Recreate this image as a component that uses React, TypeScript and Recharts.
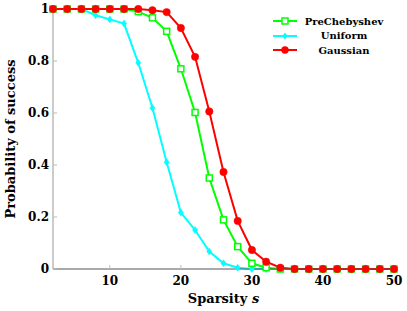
import React from 'react';
import { LineChart, Line, XAxis, YAxis, Legend } from 'recharts';

const sparsity = [2, 4, 6, 8, 10, 12, 14, 16, 18, 20, 22, 24, 26, 28, 30, 32, 34, 36, 38, 40, 42, 44, 46, 48, 50];
const preChebyshev = [1, 1, 1, 1, 1, 1, 0.99, 0.966, 0.914, 0.77, 0.602, 0.35, 0.189, 0.086, 0.022, 0.005, 0, 0, 0, 0, 0, 0, 0, 0, 0];
const uniform = [1, 1, 1, 0.976, 0.96, 0.944, 0.793, 0.619, 0.411, 0.217, 0.15, 0.067, 0.022, 0.005, 0, 0, 0, 0, 0, 0, 0, 0, 0, 0, 0];
const gaussian = [1, 1, 1, 1, 1, 1, 1, 0.995, 0.988, 0.927, 0.816, 0.606, 0.373, 0.185, 0.073, 0.028, 0.005, 0, 0, 0, 0, 0, 0, 0, 0];
const xTicks = [10, 20, 30, 40, 50];
const yTicks = [0, 0.2, 0.4, 0.6, 0.8, 1];

const data = sparsity.map((s, i) => ({
  s,
  pre: preChebyshev[i],
  uni: uniform[i],
  gau: gaussian[i],
}));

const GREEN = '#00ff00';
const CYAN = '#00ffff';
const RED = '#ff0000';
const FONT = '"DejaVu Serif", serif';

const SquareDot = (props: any) => {
  const { cx, cy, index } = props;
  if (cx == null || cy == null) return null;
  return <rect key={`sq-${index}`} x={cx - 3} y={cy - 3} width={6} height={6} fill="#ffffff" stroke={GREEN} strokeWidth={1.5} />;
};
const DiamondDot = (props: any) => {
  const { cx, cy, index } = props;
  if (cx == null || cy == null) return null;
  return <polygon key={`dm-${index}`} points={`${cx},${cy - 3.5} ${cx + 2.6},${cy} ${cx},${cy + 3.5} ${cx - 2.6},${cy}`} fill={CYAN} stroke={CYAN} strokeWidth={0.5} />;
};
const CircleDot = (props: any) => {
  const { cx, cy, index } = props;
  if (cx == null || cy == null) return null;
  return <circle key={`ci-${index}`} cx={cx} cy={cy} r={3.7} fill={RED} stroke={RED} strokeWidth={0.5} />;
};

const legendItems = [
  { name: 'PreChebyshev', color: GREEN, kind: 'sq' },
  { name: 'Uniform', color: CYAN, kind: 'dm' },
  { name: 'Gaussian', color: RED, kind: 'ci' },
];

const LegendContent = () => (
  <div style={{ fontFamily: FONT, fontWeight: 'bold', fontSize: 10 }}>
    {legendItems.map((it) => (
      <div key={it.name} style={{ display: 'flex', alignItems: 'center', height: 14.5 }}>
        <svg width={26} height={12} style={{ display: 'block' }}>
          <line x1={1} y1={6} x2={25} y2={6} stroke={it.color} strokeWidth={2} />
          {it.kind === 'sq' && <rect x={10} y={3} width={6} height={6} fill="#fff" stroke={it.color} strokeWidth={1.5} />}
          {it.kind === 'dm' && <polygon points="13,2.5 15.6,6 13,9.5 10.4,6" fill={it.color} />}
          {it.kind === 'ci' && <circle cx={13} cy={6} r={3.7} fill={it.color} />}
        </svg>
        <span style={{ width: 92, textAlign: 'center', color: '#000' }}>{it.name}</span>
      </div>
    ))}
  </div>
);

const tickStyle = { fontFamily: FONT, fontWeight: 'bold' as const, fontSize: 12, fill: '#000' };

const XLabel = (props: any) => {
  const vb = props.viewBox || {};
  const cx = (vb.x ?? 53) + (vb.width ?? 341) / 2;
  return (
    <text x={cx} y={303} textAnchor="middle" fontFamily={FONT} fontWeight="bold" fontSize={13} fill="#000">
      Sparsity <tspan fontStyle="italic">s</tspan>
    </text>
  );
};

const YLabel = (props: any) => {
  const vb = props.viewBox || {};
  const cy = (vb.y ?? 9) + (vb.height ?? 260) / 2;
  const x = 15;
  return (
    <text x={x} y={cy} transform={`rotate(-90 ${x} ${cy})`} textAnchor="middle" fontFamily={FONT} fontWeight="bold" fontSize={13} fill="#000">
      Probability of success
    </text>
  );
};

export default function App() {
  return (
    <div style={{ position: 'absolute', left: 0, top: 0, width: 407, height: 311, background: '#fff' }}>
      <LineChart width={407} height={311} data={data} margin={{ top: 9, right: 13, left: 0, bottom: 0 }}>
        <XAxis
          dataKey="s"
          type="number"
          domain={[2, 50]}
          ticks={xTicks}
          tickSize={-4}
          tickMargin={11}
          height={42}
          tick={tickStyle}
          axisLine={{ stroke: '#555', strokeWidth: 1 }}
          tickLine={{ stroke: '#bbb' }}
          label={<XLabel />}
        />
        <XAxis
          xAxisId="top"
          orientation="top"
          dataKey="s"
          type="number"
          domain={[2, 50]}
          ticks={xTicks}
          tickSize={-4}
          height={0}
          tickFormatter={() => ''}
          axisLine={{ stroke: '#444', strokeWidth: 1 }}
          tickLine={{ stroke: '#bbb' }}
        />
        <YAxis
          type="number"
          domain={[0, 1]}
          ticks={yTicks}
          tickSize={-4}
          tickMargin={8}
          width={53}
          tick={tickStyle}
          tickFormatter={(v: number) => String(v)}
          axisLine={{ stroke: '#999', strokeWidth: 1 }}
          tickLine={{ stroke: '#bbb' }}
          label={<YLabel />}
        />
        <YAxis
          yAxisId="right"
          orientation="right"
          type="number"
          domain={[0, 1]}
          ticks={yTicks}
          tickSize={-4}
          width={0}
          tickFormatter={() => ''}
          axisLine={{ stroke: '#888', strokeWidth: 1 }}
          tickLine={{ stroke: '#bbb' }}
        />
        <Line dataKey="uni" stroke={CYAN} strokeWidth={2} dot={<DiamondDot />} isAnimationActive={false} />
        <Line dataKey="pre" stroke={GREEN} strokeWidth={2} dot={<SquareDot />} isAnimationActive={false} />
        <Line dataKey="gau" stroke={RED} strokeWidth={2} dot={<CircleDot />} isAnimationActive={false} />
        <Legend
          layout="vertical"
          align="center"
          verticalAlign="middle"
          content={<LegendContent />}
          wrapperStyle={{ top: 14, left: 272, width: 125, height: 45 }}
        />
      </LineChart>
    </div>
  );
}
